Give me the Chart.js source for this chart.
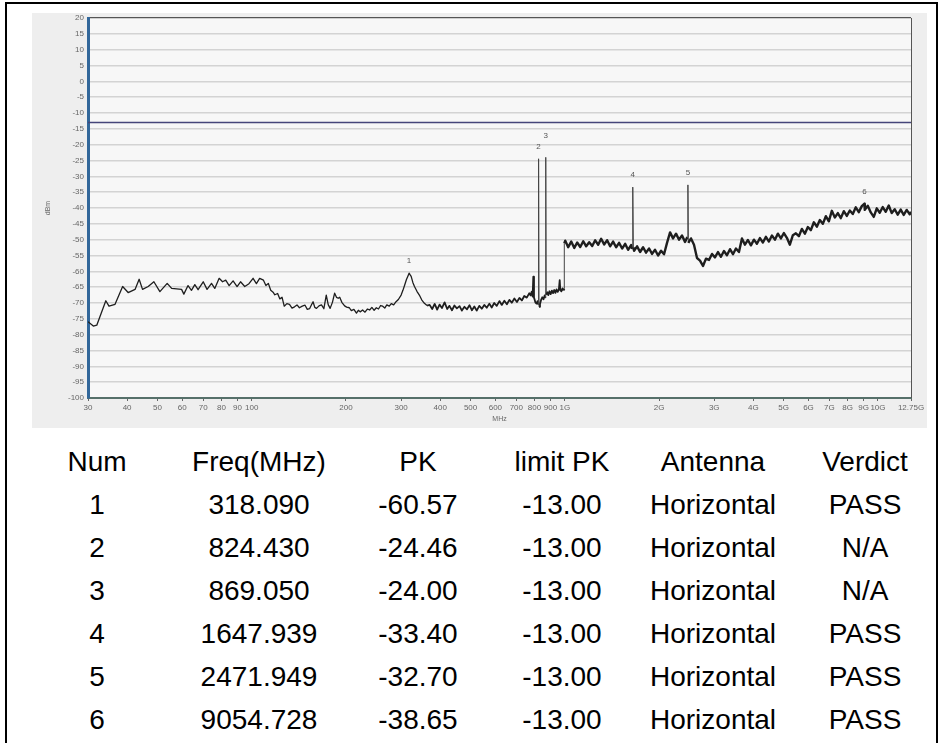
<!DOCTYPE html>
<html>
<head>
<meta charset="utf-8">
<title>Radiated spurious emission</title>
<script src="https://cdn.jsdelivr.net/npm/chart.js@4.4.0/dist/chart.umd.min.js"></script>
<style>
  html, body { margin: 0; padding: 0; background: #fff; }
  body { width: 941px; height: 743px; position: relative; overflow: hidden; font-family: "Liberation Sans", Arial, sans-serif; }
  #frame { position: absolute; left: 5px; top: 2px; width: 933px; height: 760px; border: 2px solid #000; box-sizing: border-box; }
  #panel { position: absolute; left: 32px; top: 13px; width: 895px; height: 415px; background: #eeeeee; }
  #result { position: absolute; left: 20px; top: 440px; border-collapse: collapse; font-size: 28px; color: #000; }
  #result td { height: 43px; line-height: 43px; padding: 0; text-align: center; white-space: nowrap; }
</style>
</head>
<body>
<div id="frame"></div>
<canvas id="panel" width="895" height="415"></canvas>
<table id="result"></table>

<script>
// --- sweep data (MHz / dBm) ---
const freqMHz = [
  30, 31.2, 32, 34.2, 35, 36.6, 38.7, 40.3, 42.4, 43.7, 44.8, 46.7, 48.7, 50.9, 53.7, 55.5,
  59.7, 60.7, 62.6, 64.2, 65.8, 67.4, 70, 72, 74.4, 76.2, 78.7, 80.7, 82.6, 84.7, 87.2, 89.8,
  92.1, 95, 98, 101, 103.5, 106, 109, 111, 113, 115, 117, 118.5, 121, 123, 125, 127,
  129.5, 132, 134.5, 137, 139.5, 142, 145, 148, 150.5, 153, 155.5, 157, 159, 161, 164, 167,
  170, 173, 175.5, 178, 181, 184, 186.5, 189, 191, 194, 198, 201, 205, 208, 212, 216,
  219, 222, 226, 230, 234, 238, 242, 246, 250, 254, 258, 262, 266, 270, 275, 279,
  284, 289, 294, 300, 304, 308, 312, 315, 321, 323, 327, 331, 337, 343, 349, 356, 363,
  // 370 MHz - 1 GHz
  370, 377, 384, 391, 398, 405, 413, 421, 428, 436, 444, 452, 461, 469, 478, 487,
  496, 505, 514, 523, 533, 543, 553, 563, 574, 584, 595, 606, 618, 629, 641, 653,
  665, 677, 690, 703, 716, 729, 742, 756, 770, 777, 784, 789, 793, 797, 801, 805,
  812, 818, 822, 827, 833, 840, 847, 855, 862, 866, 872, 879, 886, 893, 901, 909,
  917, 925, 933, 941, 949, 957, 963, 967, 975, 983, 990, 994, 996,
  // 1 GHz - 12.75 GHz
  1003, 1025, 1048, 1072, 1095, 1120, 1145, 1170, 1196, 1223, 1250, 1278, 1306, 1335, 1365, 1395,
  1426, 1458, 1490, 1524, 1558, 1592, 1628, 1640, 1655, 1664, 1701, 1739, 1778, 1817, 1858, 1899,
  1941, 1985, 2029, 2074, 2120, 2168, 2216, 2265, 2316, 2367, 2420, 2462, 2480, 2529, 2585, 2643,
  2702, 2762, 2823, 2886, 2951, 3016, 3084, 3152, 3222, 3294, 3368, 3443, 3519, 3598, 3678, 3760,
  3843, 3929, 4017, 4106, 4198, 4291, 4387, 4485, 4585, 4687, 4791, 4898, 5007, 5118, 5232, 5349,
  5468, 5590, 5714, 5842, 5972, 6105, 6241, 6380, 6522, 6667, 6816, 6968, 7123, 7282, 7444, 7610,
  7779, 7953, 8130, 8311, 8496, 8685, 8879, 9076, 9278, 9485, 9696, 9912, 10133, 10358, 10589, 10825,
  11066, 11312, 11564, 11822, 12085, 12354, 12629, 12750
];
const levelDbm = [
  -75.9, -77.3, -77.0, -69.3, -71.0, -70.4, -64.8, -66.7, -65.7, -62.5, -65.7, -64.8, -63.3, -66.4, -63.8, -65.4,
  -65.7, -67.2, -64.5, -66.0, -64.2, -65.8, -63.3, -65.7, -63.8, -65.4, -62.2, -63.3, -62.8, -64.5, -63.0, -64.8,
  -63.3, -64.8, -63.9, -62.2, -63.9, -62.2, -62.8, -64.5, -63.8, -66.0, -66.6, -67.4, -67.0, -68.7, -68.2, -71.0,
  -70.2, -70.4, -71.6, -71.2, -70.6, -71.5, -71.0, -70.7, -72.0, -71.8, -70.4, -69.6, -71.4, -71.7, -70.9, -70.6,
  -71.8, -67.5, -70.5, -71.7, -69.8, -66.9, -68.2, -68.5, -68.2, -69.8, -70.9, -71.3, -71.5, -72.4, -72.0, -73.2,
  -72.3, -72.8, -72.2, -72.9, -71.9, -72.2, -71.4, -72.3, -71.5, -71.9, -70.8, -71.0, -71.6, -70.6, -71.0, -70.2,
  -70.6, -69.6, -68.9, -67.5, -66.0, -64.3, -62.6, -61.6, -61.2, -61.6, -63.5, -64.8, -66.3, -67.5, -69.0, -70.1, -70.8,
  -70.6, -71.9, -70.3, -72.1, -70.5, -71.6, -69.8, -71.9, -70.9, -72.3, -70.8, -71.7, -71.0, -72.4, -71.2, -72.0,
  -70.7, -72.3, -71.1, -72.4, -70.9, -71.8, -70.6, -71.5, -70.2, -71.4, -70.0, -70.9, -69.4, -70.6, -69.3, -70.4,
  -69.0, -69.9, -68.6, -69.7, -68.4, -69.2, -67.8, -68.3, -66.9, -67.6, -66.4, -68.0, -61.7, -68.3, -69.0, -69.8,
  -70.2, -69.4, -70.5, -71.2, -70.3, -69.0, -68.2, -68.8, -67.6, -68.4, -67.4, -66.6, -67.5, -66.3, -67.2, -66.1,
  -66.9, -65.9, -66.8, -65.7, -66.5, -65.8, -62.8, -65.9, -66.3, -65.4, -66.0, -65.5, -51.2,
  -50.3, -52.4, -50.6, -52.6, -50.9, -52.3, -50.5, -52.1, -50.8, -52.0, -50.2, -51.6, -49.7, -51.5, -50.2, -52.1,
  -50.6, -52.4, -51.0, -52.8, -51.3, -53.2, -51.7, -52.9, -52.4, -53.5, -52.1, -53.9, -52.4, -54.1, -52.8, -54.5,
  -53.2, -55.0, -53.5, -54.6, -51.0, -47.7, -49.6, -48.1, -50.0, -48.7, -50.7, -49.2, -51.0, -49.6, -51.6, -55.8,
  -56.6, -58.3, -56.0, -56.4, -54.5, -55.6, -53.9, -55.4, -53.6, -54.9, -53.0, -54.6, -52.8, -53.9, -49.6, -51.6,
  -50.1, -51.8, -50.0, -51.3, -49.5, -50.9, -49.1, -50.6, -48.7, -50.0, -48.1, -49.6, -47.9, -49.4, -51.6, -48.6,
  -48.0, -48.9, -46.6, -48.1, -46.0, -47.0, -44.5, -45.9, -43.8, -45.0, -42.6, -44.2, -40.9, -43.0, -41.6, -43.2,
  -41.0, -42.5, -40.8, -41.9, -39.8, -41.3, -39.4, -40.6, -39.3, -41.4, -42.8, -40.1, -41.5, -39.7, -41.2, -39.2,
  -41.6, -40.4, -42.1, -40.5, -42.2, -40.6, -42.0, -41.2
];

// --- marker peaks ---
const markerNum = ['1', '2', '3', '4', '5', '6'];
const markerFreq = [318.090, 824.430, 869.050, 1647.939, 2471.949, 9054.728];
const markerPk = [-60.57, -24.46, -24.00, -33.40, -32.70, -38.65];
const limitPk = -13.00;
const antenna = ['Horizontal', 'Horizontal', 'Horizontal', 'Horizontal', 'Horizontal', 'Horizontal'];
const verdict = ['PASS', 'N/A', 'N/A', 'PASS', 'PASS', 'PASS'];

// --- axes ---
const xTickValues = [30, 40, 50, 60, 70, 80, 90, 100, 200, 300, 400, 500, 600, 700, 800, 900,
  1000, 2000, 3000, 4000, 5000, 6000, 7000, 8000, 9000, 10000, 12750];
const xTickLabels = ['30', '40', '50', '60', '70', '80', '90', '100', '200', '300', '400', '500', '600', '700', '800', '900',
  '1G', '2G', '3G', '4G', '5G', '6G', '7G', '8G', '9G', '10G', '12.75G'];
const yMin = -100, yMax = 20, yStep = 5;

const tableHead = ['Num', 'Freq(MHz)', 'PK', 'limit PK', 'Antenna', 'Verdict'];
const colWidths = [154, 170, 148, 140, 162, 142];

const axisFont = { family: '"Liberation Sans", Arial, sans-serif', size: 8 };

// trace points, with the marker peaks merged in
const trace = freqMHz.map((f, i) => ({ x: f, y: levelDbm[i] }))
  .concat(markerFreq.map((f, i) => ({ x: f, y: markerPk[i] })))
  .sort((a, b) => a.x - b.x);

// the swept noise floor above ~360 MHz renders as a heavy band; spikes stay hairline
function segWidth(c) {
  if (Math.abs(c.p1.parsed.y - c.p0.parsed.y) > 8) return 1;
  if (c.p0.parsed.x >= 990) return 2.4;
  if (c.p0.parsed.x >= 360) return 1.8;
  return 1.3;
}
function segColor(c) {
  return Math.abs(c.p1.parsed.y - c.p0.parsed.y) > 8 && c.p0.parsed.x > 400 ? '#444' : '#1e1e1e';
}

const plotFrame = {
  id: 'plotFrame',
  beforeDraw(chart) {
    const { ctx, chartArea: a } = chart;
    ctx.save();
    ctx.fillStyle = '#f7f7f7';
    ctx.fillRect(a.left, a.top, a.right - a.left, a.bottom - a.top);
    ctx.restore();
  },
  afterDraw(chart) {
    const { ctx, chartArea: a } = chart;
    ctx.save();
    ctx.strokeStyle = '#555';
    ctx.lineWidth = 1;
    ctx.beginPath();
    ctx.moveTo(a.right + 0.5, a.top);
    ctx.lineTo(a.right + 0.5, a.bottom);
    ctx.stroke();
    ctx.restore();
  }
};

const markerTags = {
  id: 'markerTags',
  afterDatasetsDraw(chart) {
    const { ctx, scales: { x, y } } = chart;
    ctx.save();
    ctx.font = '8px "Liberation Sans", Arial, sans-serif';
    ctx.fillStyle = '#555';
    ctx.textAlign = 'center';
    ctx.textBaseline = 'middle';
    markerFreq.forEach((f, i) => {
      const lift = i === 2 ? 22 : 12;   // tag 3 sits above tag 2
      ctx.fillText(markerNum[i], x.getPixelForValue(f), y.getPixelForValue(markerPk[i]) - lift);
    });
    ctx.restore();
  }
};

new Chart(document.getElementById('panel'), {
  type: 'line',
  data: {
    datasets: [
      {
        label: 'PK',
        data: trace,
        borderColor: '#1e1e1e',
        borderWidth: 1.3,
        borderJoinStyle: 'round',
        pointRadius: 0,
        tension: 0,
        segment: { borderWidth: segWidth, borderColor: segColor }
      },
      {
        label: 'limit PK',
        data: [{ x: xTickValues[0], y: limitPk }, { x: xTickValues[xTickValues.length - 1], y: limitPk }],
        borderColor: '#45457a',
        borderWidth: 1.3,
        pointRadius: 0
      }
    ]
  },
  options: {
    responsive: false,
    animation: false,
    layout: { padding: { top: 5, right: 16, left: 0, bottom: 0 } },
    plugins: { legend: { display: false }, tooltip: { enabled: false } },
    scales: {
      x: {
        type: 'logarithmic',
        min: xTickValues[0],
        max: xTickValues[xTickValues.length - 1],
        afterBuildTicks: s => { s.ticks = xTickValues.map(v => ({ value: v })); },
        afterFit: s => { s.height = 30; s.paddingLeft = 0; s.paddingRight = 0; },
        ticks: {
          autoSkip: false, maxRotation: 0, padding: 2, color: '#666', font: axisFont,
          callback: (v, i) => xTickLabels[i]
        },
        grid: { drawOnChartArea: false, drawTicks: true, tickLength: 3, color: '#666' },
        border: { color: '#56706a', width: 2 },
        title: { display: true, text: 'MHz', color: '#666', font: { family: axisFont.family, size: 7 }, padding: { top: 0, bottom: 5 } }
      },
      y: {
        type: 'linear',
        min: yMin,
        max: yMax,
        afterFit: s => { s.width = 56; s.paddingTop = 0; s.paddingBottom = 0; },
        ticks: { stepSize: yStep, padding: 4, color: '#666', font: axisFont },
        grid: {
          drawTicks: false,
          color: c => (c.tick && c.tick.value === yMax ? '#555' : '#d3d3d3'),
          lineWidth: c => (c.tick && c.tick.value === yMax ? 1.2 : 1.5)
        },
        border: { color: '#32679a', width: 3 },
        title: { display: true, text: 'dBm', color: '#666', font: { family: axisFont.family, size: 7 }, padding: { top: 12, bottom: 0 } }
      }
    }
  },
  plugins: [plotFrame, markerTags]
});

// --- result table ---
const table = document.getElementById('result');
const rows = [tableHead].concat(markerNum.map((n, i) => [
  n, markerFreq[i].toFixed(3), markerPk[i].toFixed(2), limitPk.toFixed(2), antenna[i], verdict[i]
]));
table.innerHTML = rows.map(r =>
  '<tr>' + r.map((c, j) => `<td style="width:${colWidths[j]}px">${c}</td>`).join('') + '</tr>'
).join('');
</script>
</body>
</html>
